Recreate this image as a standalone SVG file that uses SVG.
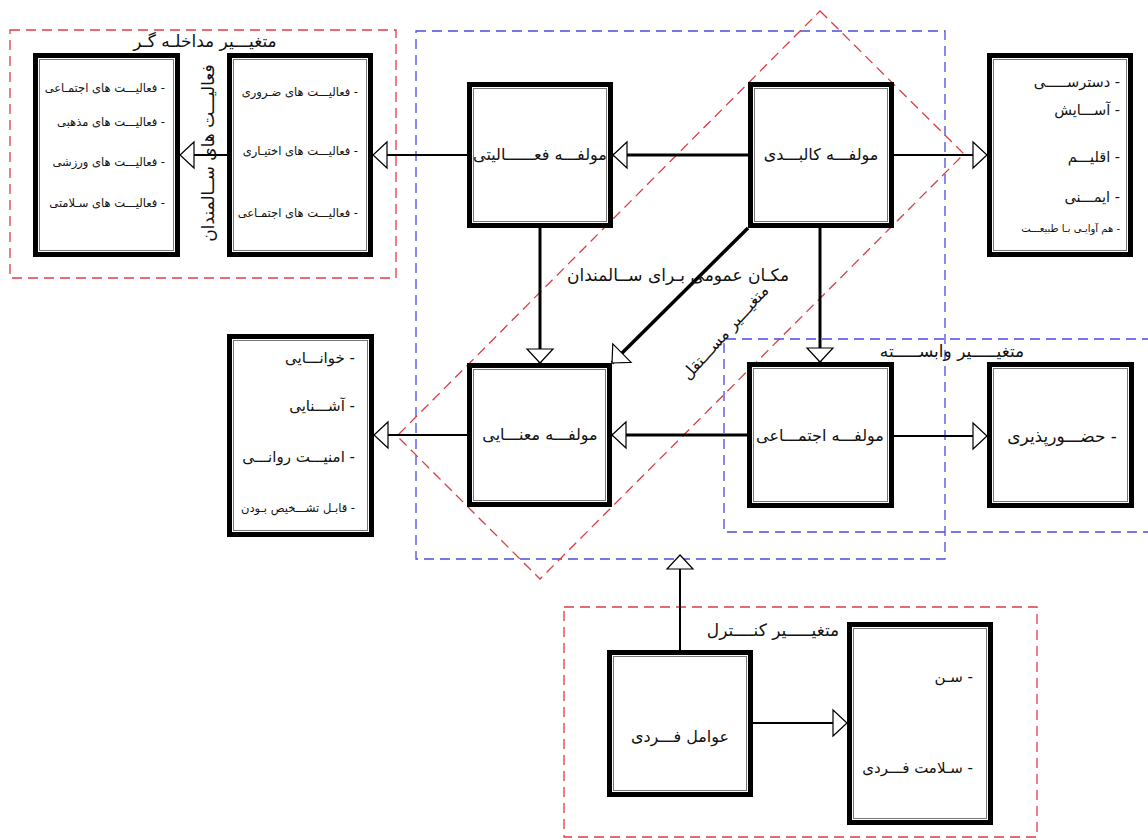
<svg xmlns="http://www.w3.org/2000/svg" width="1148" height="840" viewBox="0 0 1148 840">
<style>
.box{fill:#fff;stroke:#000;stroke-width:5}
.inner{fill:none;stroke:#777;stroke-width:1}
.red{fill:none;stroke:#dd3c45;stroke-width:1.3;stroke-dasharray:10 6}
.blue{fill:none;stroke:#4b4be0;stroke-width:1.3;stroke-dasharray:10 6}
.c{fill:none;stroke:#000}
.thin{stroke-width:2}
.thick{stroke-width:3}
text{font-family:"DejaVu Sans","Noto Sans",sans-serif;fill:#111}
.lbl{font-size:16px;text-anchor:middle}
.rt{direction:rtl;text-anchor:start}
.s10{font-size:10px}
.s11{font-size:11.5px}
.s14{font-size:14.5px}
.s15{font-size:15px}
.t17{font-size:17px}
</style>
<defs>
<marker id="ah" viewBox="-1 -1 16 28" refX="14" refY="13" markerWidth="16" markerHeight="28" markerUnits="userSpaceOnUse" orient="auto" overflow="visible">
<path d="M0,0 L14,13 L0,26 Z" fill="#fff" stroke="#000" stroke-width="1.2"/>
</marker>
</defs>

<g id="frames">
<rect class="red" x="10" y="30" width="386" height="248"/>
<rect class="blue" x="416" y="31" width="529" height="528"/>
<path class="blue" d="M1152,339 H724 V532 H1152"/>
<rect class="red" x="564" y="607" width="473" height="230"/>
<polygon class="red" points="820,11 964,154 540,579 397,436"/>
</g>

<g id="connectors">
<path class="c thick" d="M748,155 L613,155" marker-end="url(#ah)"/>
<path class="c thin" d="M467,155 L373,155" marker-end="url(#ah)"/>
<path class="c thin" d="M227,155 L180,155" marker-end="url(#ah)"/>
<path class="c thin" d="M894,155 L987,155" marker-end="url(#ah)"/>
<path class="c thick" d="M540,228 L540,363" marker-end="url(#ah)"/>
<path class="c thick" d="M820,228 L820,362" marker-end="url(#ah)"/>
<path class="c" stroke-width="3.5" d="M748,228 L612,363" marker-end="url(#ah)"/>
<path class="c thick" d="M747,435 L612,435" marker-end="url(#ah)"/>
<path class="c thin" d="M467,435 L374,435" marker-end="url(#ah)"/>
<path class="c thin" d="M894,436 L987,436" marker-end="url(#ah)"/>
<path class="c thin" d="M680,650 L680,555" marker-end="url(#ah)"/>
<path class="c thin" d="M753,723 L847,723" marker-end="url(#ah)"/>
</g>

<g id="n-l1">
<rect class="box" x="35.5" y="55.5" width="142" height="199"/>
<rect class="inner" x="39.5" y="59.5" width="134" height="191"/>
<text class="rt s11" x="165" y="92">- فعالیـــت های اجتمـاعی</text>
<text class="rt s11" x="165" y="126">- فعالیـــت های مذهبی</text>
<text class="rt s11" x="165" y="166">- فعالیـــت های ورزشی</text>
<text class="rt s11" x="165" y="207">- فعالیـــت های سـلامتی</text>
</g>

<g id="n-l2">
<rect class="box" x="229.5" y="55.5" width="141" height="199"/>
<rect class="inner" x="233.5" y="59.5" width="133" height="191"/>
<text class="rt s11" x="358" y="96">- فعالیـــت های ضـروری</text>
<text class="rt s11" x="358" y="155">- فعالیـــت های اختیـاری</text>
<text class="rt s11" x="358" y="217">- فعالیـــت های اجتمـاعی</text>
</g>

<g id="lbl-intervening">
<text class="lbl t17" x="205" y="47">متغیـــیر مداخلـه گـر</text>
<text class="lbl t17" transform="translate(208,153) rotate(-90)" x="0" y="6">فعالیـــت های ســالمندان</text>
</g>

<g id="n-activity">
<rect class="box" x="469.5" y="84.5" width="141" height="141"/>
<rect class="inner" x="473.5" y="88.5" width="133" height="133"/>
<text class="lbl" x="540" y="160">مولفـــه فعــــــالیتی</text>
</g>

<g id="n-physical">
<rect class="box" x="750.5" y="84.5" width="141" height="141"/>
<rect class="inner" x="754.5" y="88.5" width="133" height="133"/>
<text class="lbl" x="821" y="160">مولفـــه کالبـــدی</text>
</g>

<g id="n-r1">
<rect class="box" x="989.5" y="55.5" width="141" height="199"/>
<rect class="inner" x="993.5" y="59.5" width="133" height="191"/>
<text class="rt s14" x="1120" y="87">- دسترســـــی</text>
<text class="rt s14" x="1120" y="115">- آســـایش</text>
<text class="rt s14" x="1120" y="162">- اقلیـــم</text>
<text class="rt s14" x="1120" y="202">- ایمـــنی</text>
<text class="rt s10" x="1120" y="232">- هم آوایـی بـا طبیعـــت</text>
</g>

<g id="n-meaning">
<rect class="box" x="469.5" y="365.5" width="140" height="139"/>
<rect class="inner" x="473.5" y="369.5" width="132" height="131"/>
<text class="lbl" x="540" y="440">مولفـــه معنـــایی</text>
</g>

<g id="n-social">
<rect class="box" x="749.5" y="364.5" width="142" height="141"/>
<rect class="inner" x="753.5" y="368.5" width="134" height="133"/>
<text class="lbl" x="820" y="441">مولفـــه اجتمـــاعی</text>
</g>

<g id="n-presence">
<rect class="box" x="989.5" y="364.5" width="142" height="141"/>
<rect class="inner" x="993.5" y="368.5" width="134" height="133"/>
<text class="rt t17" x="1117" y="442">- حضـــورپذیری</text>
</g>

<g id="n-lb">
<rect class="box" x="229.5" y="336.5" width="142" height="198"/>
<rect class="inner" x="233.5" y="340.5" width="134" height="190"/>
<text class="rt s15" x="355" y="363">- خوانـــایی</text>
<text class="rt s15" x="355" y="411">- آشـــنایی</text>
<text class="rt s15" x="355" y="462">- امنیـــت روانـــی</text>
<text class="rt s11" x="355" y="512">- قابـل تشـــخیص بـودن</text>
</g>

<g id="n-individual">
<rect class="box" x="609.5" y="652.5" width="141" height="142"/>
<rect class="inner" x="613.5" y="656.5" width="133" height="134"/>
<text class="lbl" x="680" y="742">عوامل فـــردی</text>
</g>

<g id="n-cr">
<rect class="box" x="849.5" y="624.5" width="141" height="198"/>
<rect class="inner" x="853.5" y="628.5" width="133" height="190"/>
<text class="rt s15" x="973" y="682">- سـن</text>
<text class="rt s15" x="973" y="773">- سـلامت فـــردی</text>
</g>

<g id="labels">
<text class="lbl t17" x="678" y="281">مکـان عمومی بـرای ســالمندان</text>
<text class="lbl" font-size="15" transform="translate(729,336) rotate(-48)" x="0" y="0">متغیـــیر مســـتقل</text>
<text class="lbl t17" x="952" y="357">متغیـــــیر وابســـــته</text>
<text class="lbl t17" x="773" y="636">متغیـــــیر کنــــترل</text>
</g>
</svg>
